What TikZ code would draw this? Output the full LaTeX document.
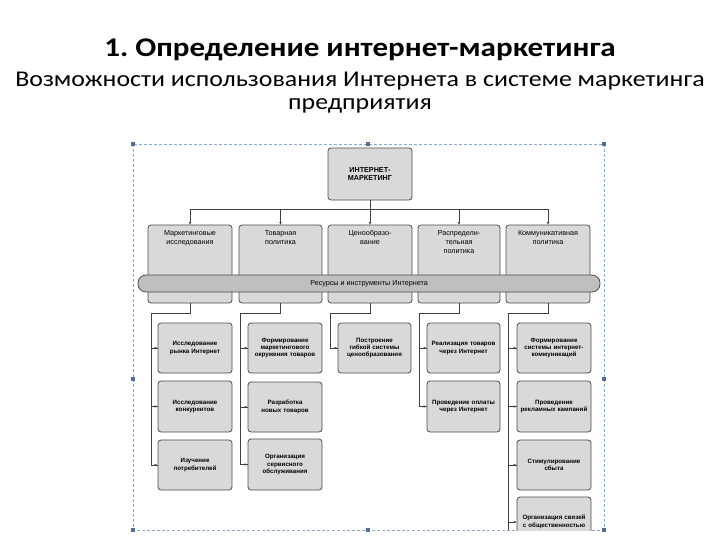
\documentclass[tikz,border=0pt]{standalone}
\usepackage{fontspec}
\setmainfont{Carlito}
\newfontfamily\arl{Liberation Sans}
\usetikzlibrary{arrows.meta}
\definecolor{boxg}{HTML}{D9D9D9}
\definecolor{frm}{HTML}{8EA9C8}
\definecolor{hdl}{HTML}{4F6F9A}
\tikzset{
 bx/.style={draw=black!70,fill=boxg,rounded corners=3pt,line width=0.8pt,inner sep=1pt,align=center,font=\arl\fontsize{6.2}{7.4}\selectfont\bfseries},
 lv/.style={draw=black!70,fill=boxg,rounded corners=3pt,line width=0.8pt},
 lvt/.style={align=center,font=\arl\fontsize{7.2}{9}\selectfont,inner sep=0pt},
 con/.style={draw=black!75,line width=0.8pt},
 arr/.style={con,-{Latex[length=3pt,width=2.5pt]}},
 hd/.style={fill=hdl,minimum size=4pt,inner sep=0pt}
}
\newcommand{\bxn}[6]{\node[bx,minimum width={#4-#2},minimum height={#5-#3},text width={#4-#2-6}] (#1) at ({(#2+#4)/2},{(#3+#5)/2}) {#6};}
\begin{document}
\begin{tikzpicture}[x=1pt,y=-1pt]
\useasboundingbox (0,0) rectangle (728,546);
\node[font=\fontsize{27}{30}\selectfont\bfseries,inner sep=0pt] (t1) at (360,50) {\scalebox{1.15}[1]{1.\ Определение интернет-маркетинга}};
\node[font=\fontsize{22.5}{26}\selectfont,inner sep=0pt] (t2) at (360,81) {\scalebox{1.15}[1]{Возможности использования Интернета в системе маркетинга}};
\node[font=\fontsize{22.5}{26}\selectfont,inner sep=0pt] (t3) at (360,106) {\scalebox{1.15}[1]{предприятия}};
% frame
\draw[frm,densely dashed,line width=0.5pt] (133,144) rectangle (604,530);
\foreach \p in {(133,144),(368,144),(604,144),(133,379),(604,379),(133,530),(368,530),(604,530)} \node[hd] at \p {};
% top
\bxn{top}{328}{148}{412}{200}{\fontsize{7.2}{9}\selectfont ИНТЕРНЕТ-\\МАРКЕТИНГ}
\coordinate (bar) at (370,209);
\draw[con] (190,209) -- (548,209);
\draw[con] (top.south) -- (bar);
% level 2
\foreach \n/\a/\b/\t in {a/148/232/{Маркетинговые\\исследования},b/239/322/{Товарная\\политика},c/328/412/{Ценообразо-\\вание},d/418/500/{Распредели-\\тельная\\политика},e/506/590/{Коммуникативная\\политика}}{
 \path[lv] (\a,225) rectangle (\b,303);
 \coordinate (\n) at ({(\a+\b)/2},225);
 \coordinate (\n s) at ({(\a+\b)/2},303);
 \node[lvt,anchor=north] (\n t) at ({(\a+\b)/2},230) {\t};
 \draw[arr] ({(\a+\b)/2},209) -- (\n);
}
\node[draw=black!70,fill=black!25,rounded corners=8pt,minimum width=462pt,minimum height=17pt,line width=0.8pt,font=\arl\fontsize{7.2}{9}\selectfont] (band) at (369,283.5) {Ресурсы и инструменты Интернета};
% level 3
\bxn{a1}{158}{323}{232}{373}{Исследование\\рынка Интернет}
\bxn{a2}{158}{381}{232}{432}{Исследование\\конкурентов}
\bxn{a3}{158}{440}{232}{490}{Изучение\\потребителей}
\bxn{b1}{248}{323}{322}{373}{Формирование маркетингового окружения товаров}
\bxn{b2}{248}{382}{322}{432}{Разработка\\новых товаров}
\bxn{b3}{248}{439}{322}{490}{Организация сервисного обслуживания}
\bxn{c1}{338}{323}{411}{373}{Построение гибкой системы ценообразования}
\bxn{d1}{427}{323}{500}{373}{Реализация товаров через Интернет}
\bxn{d2}{427}{381}{500}{432}{Проведение оплаты через Интернет}
\bxn{e1}{517}{323}{591}{373}{Формирование системы интернет-коммуникаций}
\bxn{e2}{517}{381}{591}{432}{Проведение рекламных кампаний}
\bxn{e3}{517}{440}{591}{490}{Стимулирование сбыта}
\begin{scope}
\clip (500,490) rectangle (600,530);
\bxn{e4}{517}{497}{591}{547}{Организация связей с общественностью}
\end{scope}
% connectors
\foreach \p/\x/\ks in {a/151/{a1,a2,a3},b/240/{b1,b2,b3},c/330/{c1},d/419/{d1,d2},e/508/{e1,e2,e3}}{
 \draw[con] (\p s) -- ++(0,10) -| (\x,313);
 \foreach \k in \ks { \draw[con] (\x,313) |- (\k.west); \draw[arr] (\x,0 |- \k.west) -- (\k.west); }
}
\draw[con] (508,313) -- (508,530);
\draw[arr] (508,522) -- (517,522);
\end{tikzpicture}
\end{document}
